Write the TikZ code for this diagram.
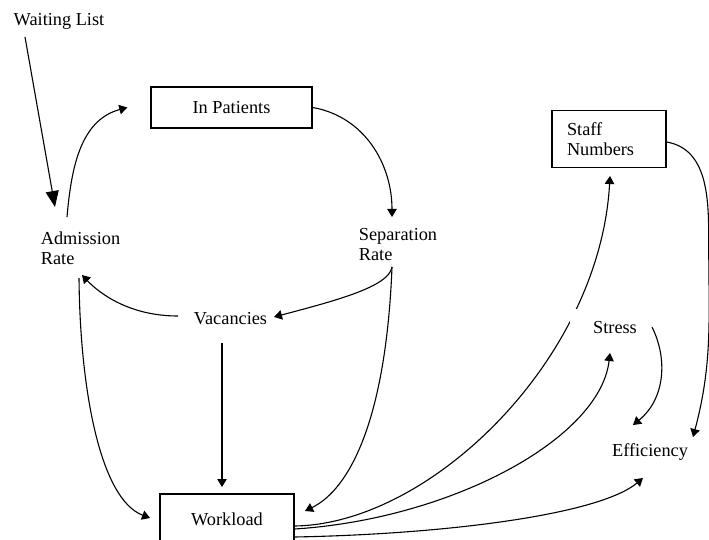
\documentclass[tikz,border=0pt]{standalone}
\usepackage{fontspec}
\setmainfont{Liberation Serif}
\usetikzlibrary{arrows.meta,backgrounds}

\begin{document}
\begin{tikzpicture}[x=1pt,y=1pt,font=\fontsize{18.3}{20}\selectfont,
    every path/.style={line width=1.1pt},
    box/.style={draw,line width=1.4pt,inner sep=0pt},
    lbl/.style={inner sep=0pt,align=left},
    arr/.style={-{Triangle[length=8pt,width=9.5pt]}},
    bigarr/.style={-{Triangle[length=16pt,width=13pt]}}]
  \useasboundingbox (0,0) rectangle (709,539);

  \node[lbl] (wait) at (59,518) {Waiting List};
  \node[box,minimum width=161pt,minimum height=41pt] (inpat) at (231.5,431.5) {In Patients};
  \node[lbl] (adm) at (80.5,290.5) {Admission\\Rate};
  \node[lbl] (sep) at (398,294.5) {Separation\\Rate};
  \node[lbl] (vac) at (230.5,220) {Vacancies};
  \node[box,minimum width=134pt,minimum height=50pt] (work) at (227,20) {Workload};
  \node[box,align=left,text width=84pt,inner xsep=15pt,inner ysep=11.8pt] (staff) at (609,400) {Staff\\Numbers};
  \node[lbl,fill=white,minimum width=90pt,text height=22pt,text depth=2pt,inner ysep=2pt,anchor=base] (stress) at (615,206) {Stress};
  \node[lbl] (eff) at (650,87) {Efficiency};

  \draw[bigarr] ([shift={(-34,-16)}]wait.center) -- ([shift={(-25.5,41.5)}]adm.center);
  \draw[arr] ([shift={(-13.5,31.5)}]adm.center) to[out=85,in=195] ([xshift=-23]inpat.west);
  \draw[arr] (inpat.east) to[out=-10,in=90] ([shift={(-6,27.5)}]sep.center);
  \draw[arr] ([shift={(-6,-22.5)}]sep.center) .. controls +(-3,-20) and +(60,16) .. ([shift={(43.5,2)}]vac.center);
  \draw[arr] ([shift={(-6,-22.5)}]sep.center) .. controls +(-6,-152) and +(45,22) .. ([shift={(78,8)}]work.center);
  \draw[arr] ([shift={(-52.5,3)}]vac.center) .. controls +(-48,0) and +(18,-19) .. ([shift={(1.5,-26.5)}]adm.center);
  \draw[arr] ([shift={(-1.5,-29.5)}]adm.center) .. controls +(1,-111) and +(-50,19) .. ([shift={(-77,1)}]work.center);
  \draw[arr] ([shift={(-8.5,-24)}]vac.center) -- ([shift={(-5,32)}]work.center);
  \begin{scope}[on background layer]
    \draw[arr] ([yshift=-7]work.east) .. controls +(136,2) and +(-10,-183) .. ([shift={(1,-37)}]staff.center);
  \end{scope}
  \draw[arr] ([yshift=-10]work.east) .. controls +(156,10) and +(-10,-86) .. ([shift={(-5,-30)}]stress.center);
  \draw[arr] ([yshift=-18]work.east) .. controls +(156,3) and +(-43,-36) .. ([shift={(-7,-26)}]eff.center);
  \draw[arr] ([shift={(37,-4)}]stress.center) .. controls +(16,-32) and +(32,26) .. ([shift={(-17,27)}]eff.center);
  \draw[arr] ([yshift=-3]staff.east) to[out=-10,in=90] ([shift={(42,-100)}]staff.east)
    to[out=-90,in=75] ([shift={(43,15)}]eff.center);
\end{tikzpicture}
\end{document}
